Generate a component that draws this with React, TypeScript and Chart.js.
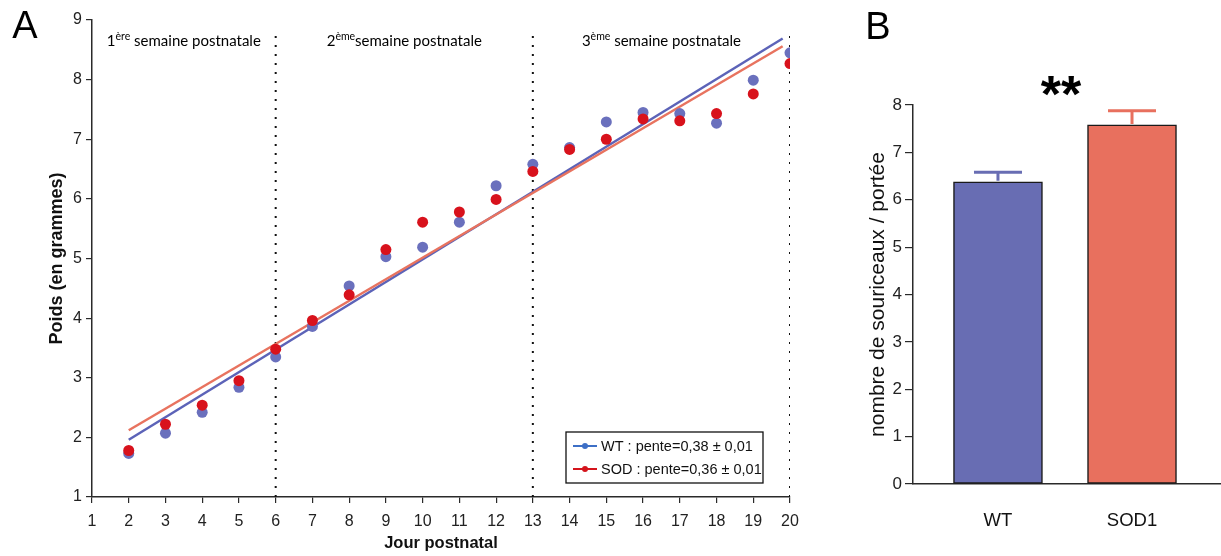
import { useEffect, useRef } from 'react';
import { Chart, registerables } from 'chart.js';

Chart.register(...registerables);

// ---- Panel A: body weight by postnatal day ----
const days = [2, 3, 4, 5, 6, 7, 8, 9, 10, 11, 12, 13, 14, 15, 16, 17, 18, 19, 20];
const wtWeight = [1.73, 2.07, 2.42, 2.84, 3.35, 3.86, 4.54, 5.03, 5.19, 5.61, 6.22, 6.58, 6.86, 7.29, 7.45, 7.43, 7.27, 7.99, 8.45];
const sodWeight = [1.78, 2.22, 2.54, 2.95, 3.48, 3.96, 4.39, 5.15, 5.61, 5.78, 5.99, 6.46, 6.83, 7.0, 7.34, 7.31, 7.43, 7.76, 8.27];

// regression lines (start / end day and fitted weight)
const fitDays = [2, 19.8];
const wtFit = [1.96, 8.69];
const sodFit = [2.12, 8.56];

// week boundaries (vertical dotted lines)
const weekBounds = [6, 13, 20];
const weekLineTop = 8.8;
const weekStarts = [1, 6, 13];
const weekEnds = [6, 13, 20];
const weekNums = ['1', '2', '3'];
const weekSups = ['ère', 'ème', 'ème'];
const weekRest = [' semaine postnatale', 'semaine postnatale', ' semaine postnatale'];

const legendTexts = ['WT : pente=0,38 \u00b1 0,01', 'SOD : pente=0,36 \u00b1 0,01'];

// ---- Panel B: litter size ----
const groups = ['WT', 'SOD1'];
const litterMean = [6.38, 7.58];
const litterSem = [0.2, 0.3];

const BLUE_PT = '#6a70bd';
const RED_PT = '#d8121c';
const BLUE_LINE = '#5c63b8';
const RED_LINE = '#e8735f';
const BLUE_BAR = '#686db3';
const RED_BAR = '#e8705e';
const AXIS = '#2a2a2a';
const SANS = '"Liberation Sans", Arial, sans-serif';

const panelA = {
  id: 'panelA',
  afterDraw(chart: any) {
    const { ctx, chartArea, scales } = chart;
    const xs = scales.x;
    ctx.save();
    // panel letter
    ctx.fillStyle = '#000';
    ctx.font = `38px ${SANS}`;
    ctx.textAlign = 'center';
    ctx.textBaseline = 'alphabetic';
    ctx.fillText('A', 25, 38);

    // week titles
    const mainFont = `15px Lato, "Open Sans", sans-serif`;
    const supFont = `10.5px Lato, "Open Sans", sans-serif`;
    ctx.textAlign = 'left';
    for (let i = 0; i < weekNums.length; i++) {
      ctx.font = mainFont;
      const wNum = ctx.measureText(weekNums[i]).width;
      const wRest = ctx.measureText(weekRest[i]).width;
      ctx.font = supFont;
      const wSup = ctx.measureText(weekSups[i]).width;
      const total = wNum + wSup + wRest;
      const cx = xs.getPixelForValue((weekStarts[i] + weekEnds[i]) / 2);
      let x = cx - total / 2;
      const base = 46;
      ctx.font = mainFont;
      ctx.fillText(weekNums[i], x, base);
      x += wNum;
      ctx.font = supFont;
      ctx.fillText(weekSups[i], x, base - 6);
      x += wSup;
      ctx.font = mainFont;
      ctx.fillText(weekRest[i], x, base);
    }

    // legend box
    const w = 197;
    const h = 51;
    const bx = chartArea.right - 27 - w;
    const by = chartArea.bottom - 14 - h;
    ctx.fillStyle = '#fff';
    ctx.fillRect(bx, by, w, h);
    ctx.strokeStyle = '#111';
    ctx.lineWidth = 1.3;
    ctx.strokeRect(bx, by, w, h);
    const colors = ['#3d6fc6', '#d4141c'];
    ctx.font = `14.5px ${SANS}`;
    ctx.textBaseline = 'middle';
    for (let i = 0; i < 2; i++) {
      const y = by + 14 + i * 23;
      ctx.strokeStyle = colors[i];
      ctx.lineWidth = 2;
      ctx.beginPath();
      ctx.moveTo(bx + 7, y);
      ctx.lineTo(bx + 31, y);
      ctx.stroke();
      ctx.fillStyle = colors[i];
      ctx.beginPath();
      ctx.arc(bx + 19, y, 3, 0, Math.PI * 2);
      ctx.fill();
      ctx.fillStyle = '#111';
      ctx.fillText(legendTexts[i], bx + 35, y + 1);
    }
    ctx.restore();
  },
};

const panelB = {
  id: 'panelB',
  afterDatasetsDraw(chart: any) {
    const { ctx, scales } = chart;
    const colors = [BLUE_BAR, RED_BAR];
    ctx.save();
    ctx.lineWidth = 3;
    groups.forEach((_, i) => {
      const x = scales.x.getPixelForValue(i);
      const yTop = scales.y.getPixelForValue(litterMean[i]);
      const yCap = scales.y.getPixelForValue(litterMean[i] + litterSem[i]);
      ctx.strokeStyle = colors[i];
      ctx.beginPath();
      ctx.moveTo(x, yTop - 1);
      ctx.lineTo(x, yCap);
      ctx.moveTo(x - 24, yCap);
      ctx.lineTo(x + 24, yCap);
      ctx.stroke();
    });
    ctx.restore();
  },
  afterDraw(chart: any) {
    const { ctx, scales } = chart;
    ctx.save();
    ctx.fillStyle = '#000';
    ctx.textAlign = 'center';
    ctx.textBaseline = 'alphabetic';
    ctx.font = `38px ${SANS}`;
    ctx.fillText('B', 38, 39);
    const mid = (scales.x.getPixelForValue(0) + scales.x.getPixelForValue(1)) / 2;
    ctx.textBaseline = 'middle';
    ctx.font = `bold 52px ${SANS}`;
    ctx.fillText('**', mid - 4, 98);
    ctx.restore();
  },
};

export default function App() {
  const refA = useRef<HTMLCanvasElement | null>(null);
  const refB = useRef<HTMLCanvasElement | null>(null);

  useEffect(() => {
    const tickFont = { family: SANS, size: 16 };
    const chartA = new Chart(refA.current as HTMLCanvasElement, {
      type: 'scatter',
      data: {
        datasets: [
          {
            label: 'SOD',
            data: days.map((d, i) => ({ x: d, y: sodWeight[i] })),
            backgroundColor: RED_PT,
            borderColor: RED_PT,
            pointRadius: 5.5,
            borderWidth: 0,
          },
          {
            label: 'WT',
            data: days.map((d, i) => ({ x: d, y: wtWeight[i] })),
            backgroundColor: BLUE_PT,
            borderColor: BLUE_PT,
            pointRadius: 5.5,
            borderWidth: 0,
          },
          {
            label: 'SOD fit',
            data: fitDays.map((d, i) => ({ x: d, y: sodFit[i] })),
            showLine: true,
            borderColor: RED_LINE,
            borderWidth: 2.5,
            pointRadius: 0,
          },
          {
            label: 'WT fit',
            data: fitDays.map((d, i) => ({ x: d, y: wtFit[i] })),
            showLine: true,
            borderColor: BLUE_LINE,
            borderWidth: 2.5,
            pointRadius: 0,
          },
          ...weekBounds.map((b) => ({
            label: `semaine ${b}`,
            data: [
              { x: b, y: 1 },
              { x: b, y: weekLineTop },
            ],
            showLine: true,
            borderColor: '#111',
            borderWidth: 2,
            borderDash: [2, 7],
            pointRadius: 0,
          })),
        ],
      },
      options: {
        responsive: false,
        animation: false,
        events: [],
        layout: { padding: { left: 0, top: 20, right: 50, bottom: 0 } },
        plugins: { legend: { display: false }, tooltip: { enabled: false } },
        scales: {
          x: {
            type: 'linear',
            min: 1,
            max: 20,
            ticks: { stepSize: 1, font: tickFont, color: '#222', padding: 9, maxRotation: 0 },
            grid: { drawOnChartArea: false, color: AXIS, lineWidth: 1.2, tickLength: 6 },
            border: { color: AXIS, width: 1.5 },
            title: {
              display: true,
              text: 'Jour postnatal',
              font: { family: SANS, size: 16.5, weight: 'bold' },
              color: '#111',
              padding: { top: 0, bottom: 3 },
            },
            afterFit: (s: any) => {
              s.height = 59;
            },
          },
          y: {
            type: 'linear',
            min: 1,
            max: 9,
            ticks: { stepSize: 1, font: tickFont, color: '#222', padding: 4 },
            grid: { drawOnChartArea: false, color: AXIS, lineWidth: 1.2, tickLength: 6 },
            border: { color: AXIS, width: 1.5 },
            title: {
              display: true,
              text: 'Poids (en grammes)',
              font: { family: SANS, size: 18, weight: 'bold' },
              color: '#111',
              padding: { top: 46, bottom: 0 },
            },
            afterFit: (s: any) => {
              s.width = 92;
            },
          },
        },
      },
      plugins: [panelA],
    } as any);

    const chartB = new Chart(refB.current as HTMLCanvasElement, {
      type: 'bar',
      data: {
        datasets: [
          {
            label: 'nombre de souriceaux / portée',
            data: groups.map((_, i) => ({ x: i, y: litterMean[i] })),
            backgroundColor: [BLUE_BAR, RED_BAR],
            borderColor: '#1a1a1a',
            borderWidth: 1.5,
            borderSkipped: false,
            barThickness: 89,
            grouped: false,
          },
        ],
      },
      options: {
        responsive: false,
        animation: false,
        events: [],
        layout: { padding: { left: 0, top: 105, right: 0, bottom: 0 } },
        plugins: { legend: { display: false }, tooltip: { enabled: false } },
        scales: {
          x: {
            type: 'linear',
            min: -0.634,
            max: 1.664,
            offset: false,
            afterBuildTicks: (s: any) => {
              s.ticks = groups.map((_, i) => ({ value: i }));
            },
            ticks: {
              font: { family: SANS, size: 18.5 },
              color: '#111',
              padding: 26,
              maxRotation: 0,
              autoSkip: false,
              callback: (v: any) => groups[v] ?? '',
            },
            grid: { display: false, drawTicks: false },
            border: { color: AXIS, width: 1.5 },
            afterFit: (s: any) => {
              s.height = 72;
            },
          },
          y: {
            type: 'linear',
            min: 0,
            max: 8,
            ticks: { stepSize: 1, font: { family: SANS, size: 17 }, color: '#222', padding: 3 },
            grid: { drawOnChartArea: false, color: AXIS, lineWidth: 1.2, tickLength: 8 },
            border: { color: AXIS, width: 1.5 },
            title: {
              display: true,
              text: 'nombre de souriceaux / portée',
              font: { family: SANS, size: 21 },
              color: '#111',
              padding: { top: 26, bottom: 0 },
            },
            afterFit: (s: any) => {
              s.width = 73;
            },
          },
        },
      },
      plugins: [panelB],
    } as any);

    return () => {
      chartA.destroy();
      chartB.destroy();
    };
  }, []);

  return (
    <div style={{ position: 'absolute', left: 0, top: 0, width: 1221, height: 556, background: '#fff' }}>
      <canvas
        ref={refA}
        width={840}
        height={556}
        style={{ position: 'absolute', left: 0, top: 0, width: 840, height: 556 }}
      />
      <canvas
        ref={refB}
        width={381}
        height={556}
        style={{ position: 'absolute', left: 840, top: 0, width: 381, height: 556 }}
      />
    </div>
  );
}
